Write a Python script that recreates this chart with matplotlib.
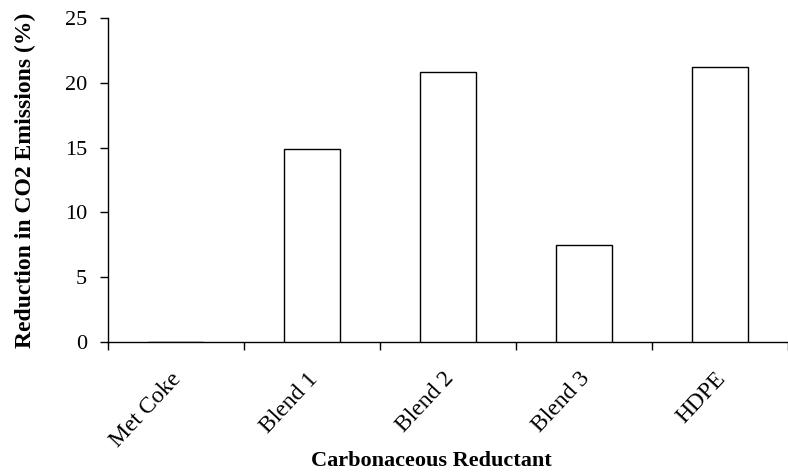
import matplotlib
matplotlib.use("Agg")
import matplotlib.pyplot as plt
import matplotlib.transforms as mtransforms
import numpy as np

categories = ["Met Coke", "Blend 1", "Blend 2", "Blend 3", "HDPE"]
reduction = [0.0, 14.9, 20.8, 7.5, 21.2]
yticks = [0, 5, 10, 15, 20, 25]

plt.rcParams['font.family'] = ['Liberation Serif', 'DejaVu Serif']

fig = plt.figure(figsize=(7.88, 4.73), dpi=100)
left_px, right_px, bot_px, top_px = 107.5, 788, 342, 18
ax = fig.add_axes([left_px/788, (473-bot_px)/473, (right_px-left_px)/788, (bot_px-top_px)/473])

x = np.arange(len(categories))
ax.bar(x, reduction, width=0.41, color='white', edgecolor='black', linewidth=1.0, zorder=3)

unit = 138.0
ax.set_xlim(-0.5, -0.5 + (right_px-left_px)/unit)
ax.set_ylim(0, 25)
ax.set_yticks(yticks)
ax.set_yticklabels([str(v) for v in yticks], fontsize=16)
ax.tick_params(axis='y', direction='out', length=5.8, width=1, pad=9)

# category boundary ticks on x axis
ax.set_xticks(np.arange(-0.5, len(categories), 1.0), minor=False)
ax.set_xticklabels([])
ax.tick_params(axis='x', direction='out', length=5.8, width=1)
ax.set_xticks(x, minor=True)
ax.set_xticklabels(categories, minor=True, rotation=47, ha='right', rotation_mode='anchor', fontsize=17)
ax.tick_params(axis='x', which='minor', length=0, pad=19)
offset = mtransforms.ScaledTranslation(-5/100, 0, fig.dpi_scale_trans)
for lbl in ax.get_xticklabels(minor=True):
    lbl.set_transform(lbl.get_transform() + offset)

for s in ['top', 'right']:
    ax.spines[s].set_visible(False)
for s in ['left', 'bottom']:
    ax.spines[s].set_linewidth(1.0)

ax.set_ylabel("Reduction in CO2 Emissions (%)", fontsize=17, fontweight='bold')
ax.yaxis.set_label_coords((36-left_px)/(right_px-left_px), 0.5)
ax.set_xlabel("Carbonaceous Reductant", fontsize=16, fontweight='bold', va='center')
ax.xaxis.set_label_coords((431-left_px)/(right_px-left_px), (bot_px-461)/(bot_px-top_px))

fig.savefig("out.png", dpi=100)
